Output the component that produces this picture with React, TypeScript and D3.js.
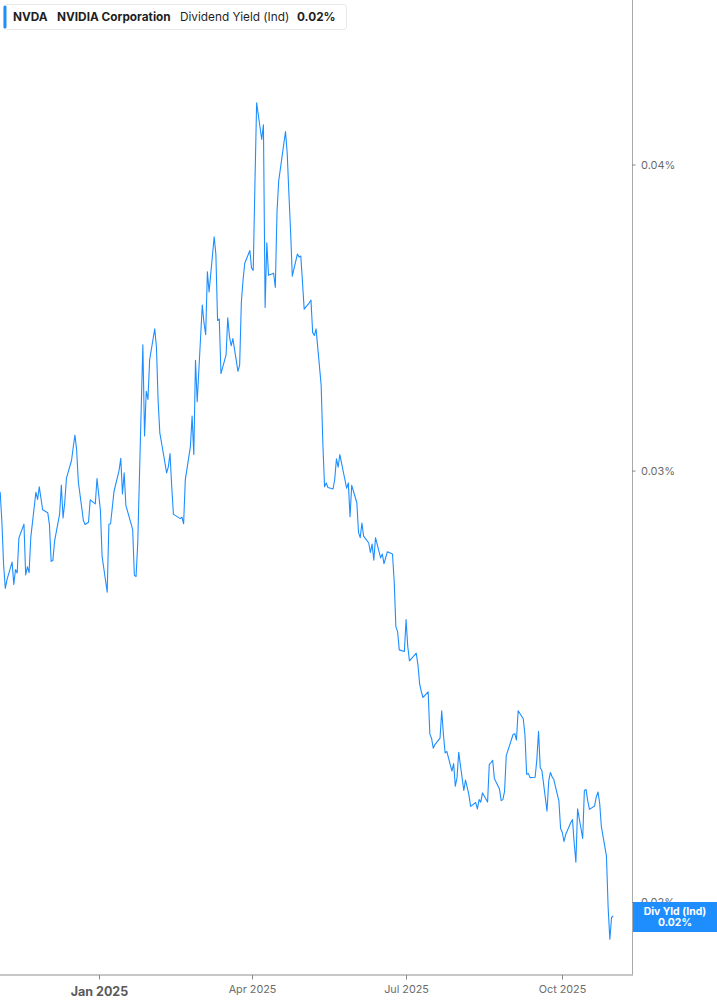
import { useEffect, useRef } from 'react'
import * as d3 from 'd3'

const W = 717
const H = 1005

// trading days, one month per line
const DATES = [
  '2024-11-01', '2024-11-04', '2024-11-05', '2024-11-06', '2024-11-07', '2024-11-08', '2024-11-11', '2024-11-12', '2024-11-13', '2024-11-14', '2024-11-15', '2024-11-18', '2024-11-19', '2024-11-20', '2024-11-21', '2024-11-22', '2024-11-25', '2024-11-26', '2024-11-27', '2024-11-29',
  '2024-12-02', '2024-12-03', '2024-12-04', '2024-12-05', '2024-12-06', '2024-12-09', '2024-12-10', '2024-12-11', '2024-12-12', '2024-12-13', '2024-12-16', '2024-12-17', '2024-12-18', '2024-12-19', '2024-12-20', '2024-12-23', '2024-12-24', '2024-12-26', '2024-12-27', '2024-12-30', '2024-12-31',
  '2025-01-02', '2025-01-03', '2025-01-06', '2025-01-07', '2025-01-08', '2025-01-10', '2025-01-13', '2025-01-14', '2025-01-15', '2025-01-16', '2025-01-17', '2025-01-21', '2025-01-22', '2025-01-23', '2025-01-24', '2025-01-27', '2025-01-28', '2025-01-29', '2025-01-30', '2025-01-31',
  '2025-02-03', '2025-02-04', '2025-02-05', '2025-02-06', '2025-02-07', '2025-02-10', '2025-02-11', '2025-02-12', '2025-02-13', '2025-02-14', '2025-02-18', '2025-02-19', '2025-02-20', '2025-02-21', '2025-02-24', '2025-02-25', '2025-02-26', '2025-02-27', '2025-02-28',
  '2025-03-03', '2025-03-04', '2025-03-05', '2025-03-06', '2025-03-07', '2025-03-10', '2025-03-11', '2025-03-12', '2025-03-13', '2025-03-14', '2025-03-17', '2025-03-18', '2025-03-19', '2025-03-20', '2025-03-21', '2025-03-24', '2025-03-25', '2025-03-26', '2025-03-27', '2025-03-28', '2025-03-31',
  '2025-04-01', '2025-04-02', '2025-04-03', '2025-04-04', '2025-04-07', '2025-04-08', '2025-04-09', '2025-04-10', '2025-04-11', '2025-04-14', '2025-04-15', '2025-04-16', '2025-04-17', '2025-04-21', '2025-04-22', '2025-04-23', '2025-04-24', '2025-04-25', '2025-04-28', '2025-04-29', '2025-04-30',
  '2025-05-01', '2025-05-02', '2025-05-05', '2025-05-06', '2025-05-07', '2025-05-08', '2025-05-09', '2025-05-12', '2025-05-13', '2025-05-14', '2025-05-15', '2025-05-16', '2025-05-19', '2025-05-20', '2025-05-21', '2025-05-22', '2025-05-23', '2025-05-27', '2025-05-28', '2025-05-29', '2025-05-30',
  '2025-06-02', '2025-06-03', '2025-06-04', '2025-06-05', '2025-06-06', '2025-06-09', '2025-06-10', '2025-06-11', '2025-06-12', '2025-06-13', '2025-06-16', '2025-06-17', '2025-06-18', '2025-06-20', '2025-06-23', '2025-06-24', '2025-06-25', '2025-06-26', '2025-06-27', '2025-06-30',
  '2025-07-01', '2025-07-02', '2025-07-03', '2025-07-07', '2025-07-08', '2025-07-09', '2025-07-10', '2025-07-11', '2025-07-14', '2025-07-15', '2025-07-16', '2025-07-17', '2025-07-18', '2025-07-21', '2025-07-22', '2025-07-23', '2025-07-24', '2025-07-25', '2025-07-28', '2025-07-29', '2025-07-30', '2025-07-31',
  '2025-08-01', '2025-08-04', '2025-08-05', '2025-08-06', '2025-08-07', '2025-08-08', '2025-08-11', '2025-08-12', '2025-08-13', '2025-08-14', '2025-08-15', '2025-08-18', '2025-08-19', '2025-08-20', '2025-08-21', '2025-08-22', '2025-08-25', '2025-08-26', '2025-08-27', '2025-08-28', '2025-08-29',
  '2025-09-02', '2025-09-03', '2025-09-04', '2025-09-05', '2025-09-08', '2025-09-09', '2025-09-10', '2025-09-11', '2025-09-12', '2025-09-15', '2025-09-16', '2025-09-17', '2025-09-18', '2025-09-19', '2025-09-22', '2025-09-23', '2025-09-24', '2025-09-25', '2025-09-26', '2025-09-29', '2025-09-30',
  '2025-10-01', '2025-10-02', '2025-10-03', '2025-10-06', '2025-10-07', '2025-10-08', '2025-10-09', '2025-10-10', '2025-10-13', '2025-10-14', '2025-10-15', '2025-10-16', '2025-10-17', '2025-10-20', '2025-10-21', '2025-10-22', '2025-10-23', '2025-10-24', '2025-10-27', '2025-10-28', '2025-10-29', '2025-10-30', '2025-10-31',
]

// dividend yield (ind), in %
const DIV_YIELD = [
  0.02954, 0.02940, 0.02859, 0.02747, 0.02687, 0.02709, 0.02754, 0.02697, 0.02735, 0.02726, 0.02817, 0.02854, 0.02721, 0.02742, 0.02727, 0.02818, 0.02941, 0.02921, 0.02956, 0.02893,
  0.02885, 0.02852, 0.02756, 0.02758, 0.02808, 0.02882, 0.02961, 0.02871, 0.02912, 0.02980, 0.03030, 0.03068, 0.03103, 0.03061, 0.02970, 0.02864, 0.02853, 0.02859, 0.02920, 0.02909, 0.02979,
  0.02892, 0.02769, 0.02677, 0.02854, 0.02855, 0.02943, 0.03002, 0.03036, 0.02936, 0.02995, 0.02905, 0.02840, 0.02720, 0.02717, 0.02805, 0.03378, 0.03101, 0.03234, 0.03209, 0.03331,
  0.03429, 0.03371, 0.03204, 0.03109, 0.03081, 0.02995, 0.03012, 0.03050, 0.02957, 0.02881, 0.02869, 0.02873, 0.02855, 0.02976, 0.03070, 0.03159, 0.03047, 0.03329, 0.03202,
  0.03507, 0.03449, 0.03410, 0.03618, 0.03550, 0.03739, 0.03678, 0.03456, 0.03461, 0.03288, 0.03346, 0.03465, 0.03404, 0.03375, 0.03398, 0.03295, 0.03314, 0.03516, 0.03590, 0.03647, 0.03691,
  0.03631, 0.03623, 0.03929, 0.04241, 0.04097, 0.04154, 0.03499, 0.03718, 0.03606, 0.03613, 0.03565, 0.03828, 0.03941, 0.04128, 0.04045, 0.03894, 0.03758, 0.03603, 0.03679, 0.03669, 0.03672,
  0.03584, 0.03493, 0.03514, 0.03523, 0.03417, 0.03408, 0.03429, 0.03252, 0.03079, 0.02956, 0.02967, 0.02954, 0.02950, 0.02977, 0.03035, 0.03011, 0.03047, 0.02952, 0.02967, 0.02874, 0.02960,
  0.02912, 0.02832, 0.02818, 0.02857, 0.02822, 0.02804, 0.02779, 0.02801, 0.02759, 0.02818, 0.02765, 0.02775, 0.02750, 0.02781, 0.02775, 0.02705, 0.02592, 0.02580, 0.02536, 0.02532,
  0.02609, 0.02544, 0.02510, 0.02528, 0.02500, 0.02456, 0.02438, 0.02425, 0.02438, 0.02343, 0.02334, 0.02312, 0.02320, 0.02334, 0.02395, 0.02342, 0.02302, 0.02305, 0.02263, 0.02279, 0.02231, 0.02249,
  0.02303, 0.02222, 0.02244, 0.02229, 0.02213, 0.02189, 0.02197, 0.02184, 0.02203, 0.02198, 0.02217, 0.02198, 0.02277, 0.02281, 0.02286, 0.02247, 0.02225, 0.02201, 0.02203, 0.02220, 0.02296,
  0.02342, 0.02344, 0.02330, 0.02395, 0.02377, 0.02342, 0.02256, 0.02258, 0.02249, 0.02250, 0.02287, 0.02349, 0.02270, 0.02264, 0.02179, 0.02242, 0.02260, 0.02251, 0.02245, 0.02200, 0.02144,
  0.02136, 0.02118, 0.02132, 0.02156, 0.02162, 0.02115, 0.02077, 0.02184, 0.02124, 0.02222, 0.02224, 0.02200, 0.02183, 0.02190, 0.02208, 0.02219, 0.02196, 0.02148, 0.02089, 0.01990, 0.01932, 0.01972, 0.01975,
]

const Y_TICKS = [0.02, 0.03, 0.04]
const X_TICKS = ['2025-01-01', '2025-04-01', '2025-07-01', '2025-10-01']
const X_TICK_LABELS = ['Jan 2025', 'Apr 2025', 'Jul 2025', 'Oct 2025']
const HEADER = ['NVDA', 'NVIDIA Corporation', 'Dividend Yield (Ind)', '0.02%']
const LAST_TAG = ['Div Yld (Ind)', '0.02%']

const BLUE = '#1e8eff'
const FONT = 'Inter, "Noto Sans", sans-serif'

export default function App() {
  const svgRef = useRef<SVGSVGElement>(null)

  useEffect(() => {
    const svgEl = svgRef.current
    if (!svgEl) return
    const svg = d3.select(svgEl)
    svg.selectAll('*').remove()

    const parse = d3.timeParse('%Y-%m-%d')
    const data = DATES.map((d, i) => ({ date: parse(d)!, v: DIV_YIELD[i] }))

    const plotR = 632
    const plotB = 975

    // x: Jan 1 at 98.7, Oct 1 at 562.3 (extrapolates both ways)
    const x = d3.scaleTime()
      .domain([parse(X_TICKS[0])!, parse(X_TICKS[3])!])
      .range([98.7, 562.3])
    const y = d3.scaleLog().domain([0.02, 0.04]).range([902.5, 165])

    svg.append('rect').attr('width', W).attr('height', H).attr('fill', '#fff')

    const defs = svg.append('defs')
    defs.append('clipPath').attr('id', 'plot-clip')
      .append('rect').attr('x', 0).attr('y', 0).attr('width', plotR).attr('height', plotB)

    // series
    const line = d3.line<{ date: Date; v: number }>()
      .x((d) => x(d.date))
      .y((d) => y(d.v))
    svg.append('path')
      .datum(data)
      .attr('clip-path', 'url(#plot-clip)')
      .attr('fill', 'none')
      .attr('stroke', BLUE)
      .attr('stroke-width', 1.1)
      .attr('stroke-linejoin', 'round')
      .attr('d', line)

    // right axis
    svg.append('line').attr('x1', plotR + 0.5).attr('x2', plotR + 0.5).attr('y1', 0).attr('y2', plotB)
      .attr('stroke', '#a9a9a9').attr('stroke-width', 1)
    const yt = svg.append('g')
    Y_TICKS.forEach((t) => {
      yt.append('line').attr('x1', plotR).attr('x2', plotR + 3.5).attr('y1', y(t)).attr('y2', y(t))
        .attr('stroke', '#888').attr('stroke-width', 1)
      yt.append('text').attr('x', 641).attr('y', y(t)).attr('dy', '0.35em')
        .attr('font-family', FONT).attr('font-size', 11).attr('fill', '#6b6b6b')
        .text(d3.format('.2f')(t) + '%')
    })

    // bottom axis
    svg.append('line').attr('x1', 0).attr('x2', plotR + 1).attr('y1', plotB).attr('y2', plotB)
      .attr('stroke', '#b4b4b4').attr('stroke-width', 1.6)
    X_TICKS.forEach((t, i) => {
      const px = Math.round(x(parse(t)!)) + 0.5
      svg.append('line').attr('x1', px).attr('x2', px).attr('y1', plotB).attr('y2', plotB + 4.5)
        .attr('stroke', '#8a8a8a').attr('stroke-width', 1)
      const first = i === 0
      svg.append('text').attr('x', px).attr('y', first ? 996 : 993)
        .attr('text-anchor', 'middle').attr('font-family', FONT)
        .attr('font-size', first ? 12.5 : 10.8).attr('font-weight', first ? 700 : 400)
        .attr('fill', first ? '#5a5a5a' : '#6b6b6b')
        .text(X_TICK_LABELS[i])
    })

    // last value tag (drawn over the 0.02% tick label, as in the source)
    const tagY = 902
    svg.append('rect').attr('x', plotR + 1).attr('y', tagY).attr('width', W - plotR - 1).attr('height', 30)
      .attr('fill', BLUE)
    LAST_TAG.forEach((s, i) => {
      svg.append('text').attr('x', 675).attr('y', tagY + 9.5 + i * 11).attr('dy', '0.35em')
        .attr('text-anchor', 'middle').attr('font-family', FONT).attr('font-size', 10.4)
        .attr('font-weight', 700).attr('fill', '#fff')
        .text(s)
    })

    // header legend
    const hd = svg.append('g')
    hd.append('rect').attr('x', 3.5).attr('y', 4.5).attr('width', 343).attr('height', 25).attr('rx', 3)
      .attr('fill', '#fff').attr('stroke', '#e8e8e8')
    hd.append('rect').attr('x', 3.5).attr('y', 5.5).attr('width', 3).attr('height', 23).attr('rx', 1.5)
      .attr('fill', BLUE)
    const hx = [13, 57, 180, 297]
    const hw = [700, 700, 400, 700]
    HEADER.forEach((s, i) => {
      hd.append('text').attr('x', hx[i]).attr('y', 21).attr('font-family', FONT)
        .attr('font-size', 11.8).attr('font-weight', hw[i]).attr('fill', '#1f1f1f')
        .text(s)
    })

    return () => { svg.selectAll('*').remove() }
  }, [])

  return (
    <svg
      ref={svgRef}
      width={W}
      height={H}
      style={{ position: 'absolute', left: 0, top: 0, display: 'block' }}
    />
  )
}
